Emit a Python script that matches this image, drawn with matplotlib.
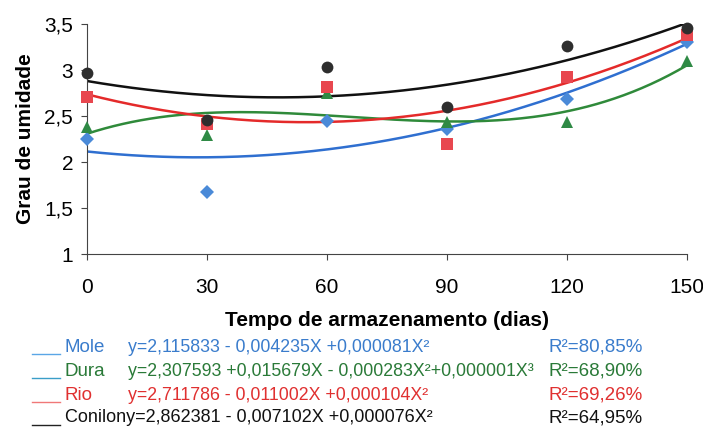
import numpy as np
import matplotlib
matplotlib.use("Agg")
import matplotlib.pyplot as plt
from matplotlib.lines import Line2D

plt.rcParams['font.family'] = ['Liberation Sans', 'DejaVu Sans']

# storage time (days)
dias = [0, 30, 60, 90, 120, 150]

# moisture content
mole = [2.25, 1.67, 2.45, 2.36, 2.68, 3.30]
dura = [2.38, 2.29, 2.75, 2.44, 2.43, 3.10]
rio = [2.71, 2.41, 2.81, 2.20, 2.92, 3.38]
conilon = [2.97, 2.46, 3.03, 2.60, 3.26, 3.46]

nomes = ["Mole", "Dura", "Rio", "Conilon"]
equacoes = [
    "y=2,115833 - 0,004235X +0,000081X²",
    "y=2,307593 +0,015679X - 0,000283X²+0,000001X³",
    "y=2,711786 - 0,011002X +0,000104X²",
    "y=2,862381 - 0,007102X +0,000076X²",
]
r2 = ["R²=80,85%", "R²=68,90%", "R²=69,26%", "R²=64,95%"]
graus = [2, 3, 2, 2]

series = [mole, dura, rio, conilon]
marcadores = ["D", "^", "s", "o"]
tamanhos = [7, 8.5, 8, 8.5]
cor_marc = ["#4a8ad8", "#2f8a45", "#e8474f", "#2e2e2e"]
cor_curva = ["#2f6fd0", "#2f8a3a", "#e42a2a", "#111111"]
cor_traco = ["#5aa6e6", "#3a9ec8", "#f07878", "#222222"]
cor_texto = ["#3a7ccc", "#2a7a38", "#e03030", "#111111"]

fig = plt.figure(figsize=(7.03, 4.30), dpi=100)
ax = fig.add_axes([87 / 703, 1 - 254 / 430, 600 / 703, 230 / 430])

xs = np.linspace(0, 150, 200)
for ys, g, m, ms, cm, cc in zip(series, graus, marcadores, tamanhos, cor_marc, cor_curva):
    coef = np.polyfit(dias, ys, g)
    ax.plot(xs, np.polyval(coef, xs), color=cc, lw=1.8, zorder=2)
    ax.plot(dias, ys, m, color=cm, ms=ms, zorder=3, markeredgewidth=0,
            clip_on=False)

ax.set_xlim(0, 150)
ax.set_ylim(1, 3.5)
ax.set_xticks(dias)
ax.set_yticks([1, 1.5, 2, 2.5, 3, 3.5])
ax.set_yticklabels(["1", "1,5", "2", "2,5", "3", "3,5"])
ax.tick_params(labelsize=15, length=4, color="#444444")
ax.tick_params(axis="x", pad=13)
ax.tick_params(axis="y", pad=6)
for s in ["top", "right"]:
    ax.spines[s].set_visible(False)
for s in ["left", "bottom"]:
    ax.spines[s].set_color("#444444")

ax.set_ylabel("Grau de umidade", fontsize=15, fontweight="bold", labelpad=7)
ax.set_xlabel("Tempo de armazenamento (dias)", fontsize=15,
              fontweight="bold", labelpad=10)

# equation legend under the chart
linhas_y = [347, 371, 395, 418]
for i, yy in enumerate(linhas_y):
    yf = 1 - yy / 430
    yl = 1 - (yy + 7) / 430
    fig.add_artist(Line2D([32 / 703, 60 / 703], [yl, yl], color=cor_traco[i], lw=1))
    if i == 3:
        # the name runs straight into the equation in the original
        fig.text(65 / 703, yf, nomes[i] + equacoes[i], color=cor_texto[i],
                 fontsize=13, va="center")
    else:
        fig.text(65 / 703, yf, nomes[i], color=cor_texto[i], fontsize=13.5, va="center")
        fig.text(128 / 703, yf, equacoes[i], color=cor_texto[i], fontsize=12.8, va="center")
    fig.text(549 / 703, yf, r2[i], color=cor_texto[i], fontsize=13.5, va="center")

fig.savefig("out.png", dpi=100)
